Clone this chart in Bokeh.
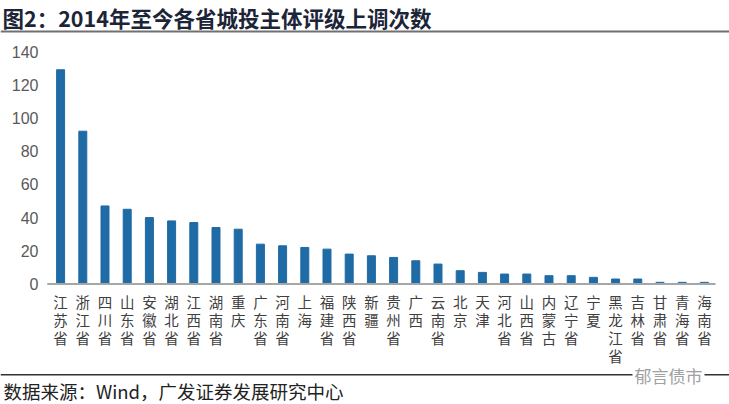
from bokeh.plotting import figure
from bokeh.models import Range1d, Label, BoxAnnotation, ColumnDataSource
from bokeh.core.properties import value
from bokeh.embed import file_html
from bokeh.resources import INLINE

provinces = ["江苏省", "浙江省", "四川省", "山东省", "安徽省", "湖北省", "江西省", "湖南省",
             "重庆", "广东省", "河南省", "上海", "福建省", "陕西省", "新疆", "贵州省", "广西",
             "云南省", "北京", "天津", "河北省", "山西省", "内蒙古", "辽宁省", "宁夏",
             "黑龙江省", "吉林省", "甘肃省", "青海省", "海南省"]
counts = [129, 92, 47, 45, 40, 38, 37, 34, 33, 24, 23, 22, 21, 18, 17, 16, 14, 12, 8, 7,
          6, 6, 5, 5, 4, 3, 3, 1, 1, 1]
y_ticks = [0, 20, 40, 60, 80, 100, 120, 140]

title_text = "图2：2014年至今各省城投主体评级上调次数"
source_text = "数据来源：Wind，广发证券发展研究中心"
watermark_text = "郁言债市"

CJK = "Noto Sans CJK SC"
W, H = 729, 404
# frame layout (pixels within the figure)
plot_left, plot_right = 49, 715          # category band edges
plot_top, plot_bottom = 51, 283.5        # y = 140 and y = 0
n = len(provinces)
band = (plot_right - plot_left) / n
y_max = y_ticks[-1]
ppu = (plot_bottom - plot_top) / y_max

x_start = -0.5 - plot_left / band
x_end = n - 0.5 + (W - plot_right) / band
y_start = -(H - plot_bottom) / ppu
y_end = y_max + plot_top / ppu

p = figure(width=W, height=H, x_range=Range1d(x_start, x_end), y_range=Range1d(y_start, y_end),
           output_backend="svg", toolbar_location=None,
           x_axis_location=None, y_axis_location=None,
           min_border=0, min_border_left=0, min_border_right=0,
           min_border_top=0, min_border_bottom=0)
p.outline_line_color = None
p.grid.visible = False
p.background_fill_color = "white"
p.border_fill_color = "white"

idx = list(range(n))
p.vbar(x=idx, top=counts, bottom=0, width=0.36, color="#1F6BA6")

# x axis line
p.segment(x0=[-0.5 - 0.1], x1=[n - 0.5], y0=[0], y1=[0], line_color="#A6A6A6", line_width=2)

# vertical category labels, one character per row
lx, ly, lt, loff = [], [], [], []
for i, name in enumerate(provinces):
    for j, ch in enumerate(name):
        lx.append(i)
        ly.append(0)
        lt.append(ch)
        loff.append(17.5 + j * 18)
p.text(x="x", y="y", text="t", y_offset="off",
       source=ColumnDataSource(dict(x=lx, y=ly, t=lt, off=loff)),
       text_font=value(CJK), text_font_size="14.5px", text_color="#404040",
       text_align="center", text_baseline="middle")

# y tick labels
for t in y_ticks:
    p.add_layout(Label(x=plot_left - 11, y=t, x_units="screen", y_units="data", text=str(t),
                       text_font="Liberation Sans", text_font_size="16px",
                       text_color="#595959", text_align="right", text_baseline="middle"))

# title, separators, footer (screen units, origin at bottom-left)
p.add_layout(Label(x=2, y=H - 16.5, x_units="screen", y_units="screen", text=title_text,
                   text_font=CJK, text_font_style="bold", text_font_size="21.5px",
                   text_color="#1C2538", text_baseline="middle"))
p.add_layout(BoxAnnotation(left=0, right=W, bottom=H - 32, top=H - 30,
                           left_units="screen", right_units="screen",
                           bottom_units="screen", top_units="screen",
                           fill_color="#707070", fill_alpha=1, line_color=None))
p.add_layout(BoxAnnotation(left=0, right=W, bottom=29, top=30.5,
                           left_units="screen", right_units="screen",
                           bottom_units="screen", top_units="screen",
                           fill_color="#333333", fill_alpha=1, line_color=None))
p.add_layout(Label(x=3, y=14, x_units="screen", y_units="screen", text=source_text,
                   text_font=CJK, text_font_size="18.5px", text_color="#222222",
                   text_baseline="middle"))
p.add_layout(Label(x=632, y=29.5, x_units="screen", y_units="screen", text=watermark_text,
                   text_font=CJK, text_font_size="17px", text_color="#A0A0A0",
                   text_baseline="middle", background_fill_color="white",
                   padding=2))

open("out.html", "w").write(file_html(p, INLINE))
